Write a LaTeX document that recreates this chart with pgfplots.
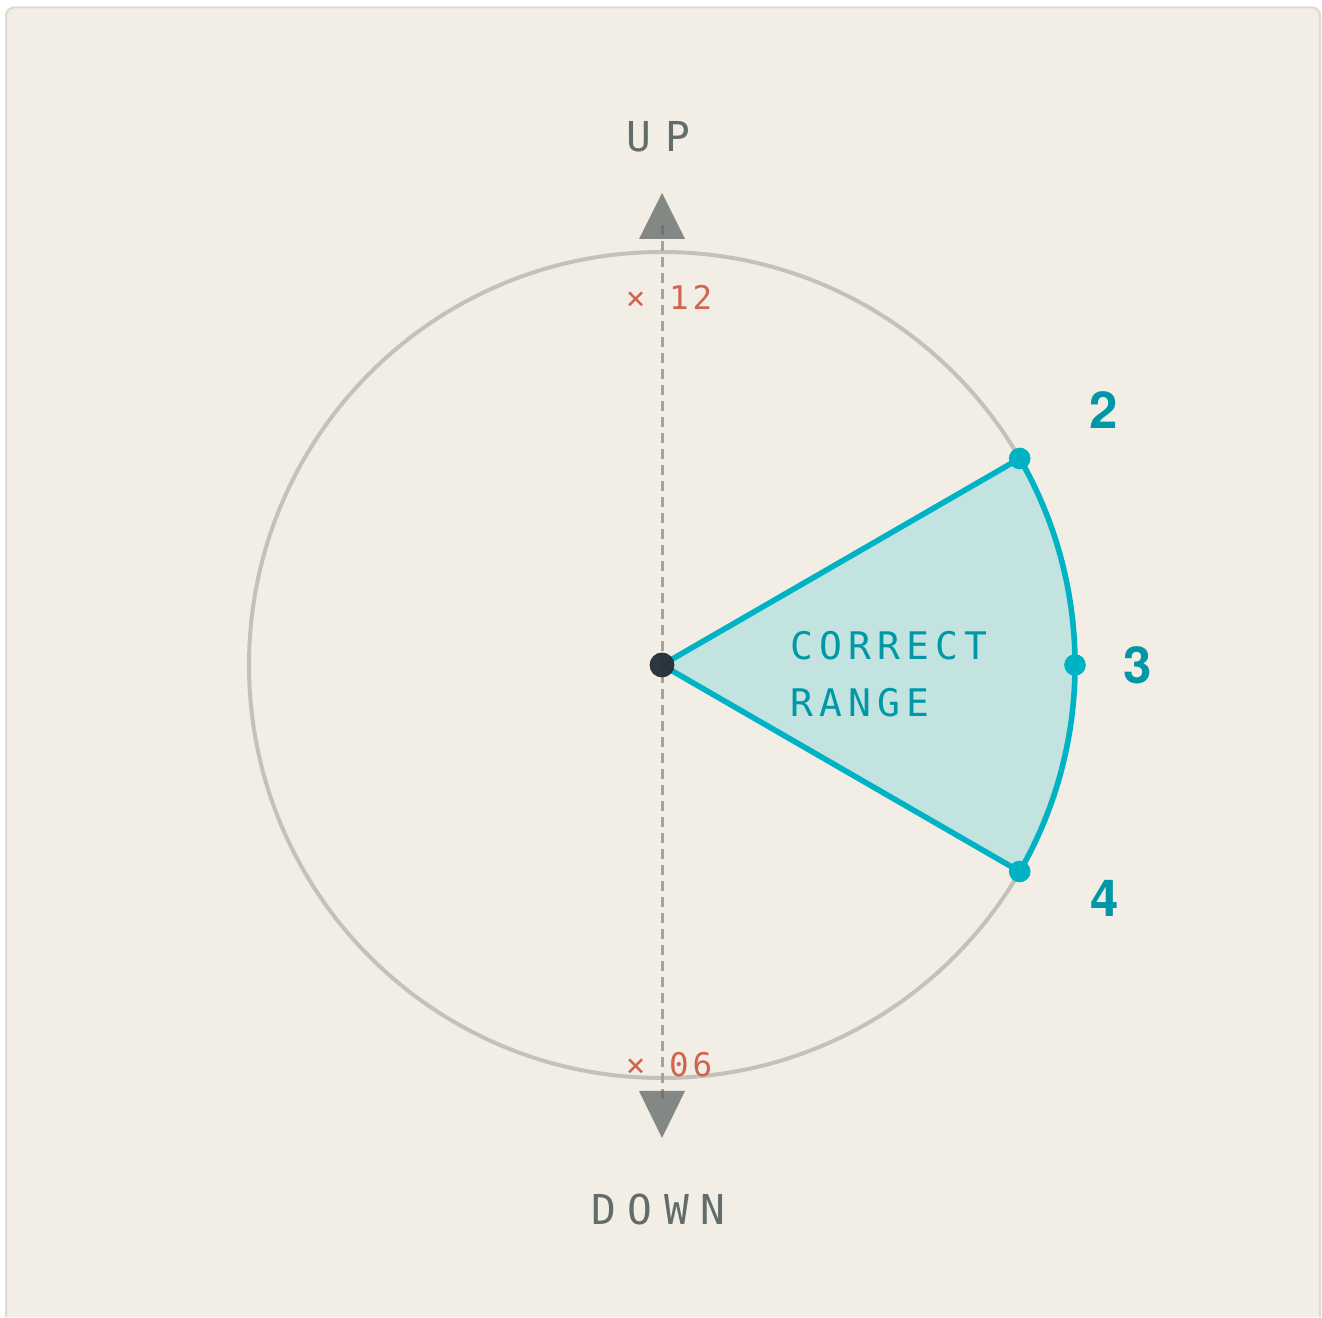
\documentclass[border=0pt]{standalone}
\usepackage{pgfplots}
\pgfplotsset{compat=1.18}
\usepackage{fontspec}
\setmainfont{TeX Gyre Heros}
\newfontfamily\monoA[LetterSpace=34]{DejaVu Sans Mono}
\newfontfamily\monoD[LetterSpace=28]{DejaVu Sans Mono}
\newfontfamily\monoB[LetterSpace=16]{DejaVu Sans Mono}
\newfontfamily\monoC[LetterSpace=12]{DejaVu Sans Mono}
\definecolor{panel}{HTML}{F2EEE6}
\definecolor{border}{HTML}{DDDAD3}
\definecolor{ring}{HTML}{C3C2BA}
\definecolor{dashgray}{HTML}{A3A39E}
\definecolor{tri}{HTML}{5F6664}
\definecolor{graytext}{HTML}{626C6A}
\definecolor{redtext}{HTML}{D0654F}
\definecolor{cyanline}{HTML}{00B3C4}
\definecolor{tealtext}{HTML}{0098A6}
\definecolor{sectorfill}{HTML}{C2E3E0}
\definecolor{hub}{HTML}{263238}
\begin{document}
\begin{tikzpicture}
\begin{axis}[width=661pt,height=658.5pt,scale only axis,
  xmin=-662,xmax=660,ymin=-652,ymax=665,hide axis,clip=true]
% background
\fill[white] (axis cs:-662,-652) rectangle (axis cs:660,665);
\fill[panel] (axis cs:-656,-652) [rounded corners=4pt] -- (axis cs:-656,657.5) -- (axis cs:658,657.5) [sharp corners] -- (axis cs:658,-652) -- cycle;
\draw[border,line width=1pt] (axis cs:-656,-652) [rounded corners=4pt] -- (axis cs:-656,657.5) -- (axis cs:658,657.5) [sharp corners] -- (axis cs:658,-652);
% clock ring
\draw[ring,line width=2pt] (axis cs:0,0) circle[radius=206.5pt];
% vertical dashed axis
\addplot[dashgray,line width=1.5pt,dash pattern=on 5pt off 3pt] coordinates {(0,440) (0,-440)};
% arrows
\addplot[draw=none,fill=tri,fill opacity=0.75] coordinates {(-23,426) (23,426) (0,472)} -- cycle;
\addplot[draw=none,fill=tri,fill opacity=0.75] coordinates {(-23,-426) (23,-426) (0,-473)} -- cycle;
% sector (hours 2 to 4)
\fill[sectorfill] (axis cs:0,0) -- (axis cs:357.7,206.5) arc[start angle=30,end angle=-30,radius=206.5pt] -- cycle;
\draw[cyanline,line width=2.8pt,line join=round] (axis cs:0,0) -- (axis cs:357.7,206.5) arc[start angle=30,end angle=-30,radius=206.5pt] -- cycle;
% hour markers
\addplot[only marks,mark=*,mark size=5.2pt,color=cyanline] coordinates {(357.7,206.5) (413,0) (357.7,-206.5)};
\addplot[only marks,mark=*,mark size=6pt,color=hub,fill opacity=0.97] coordinates {(0,0)};
% labels
\node[anchor=base,inner sep=0,text=graytext] at (axis cs:-4,513) {\monoA\fontsize{20.6pt}{24pt}\selectfont UP};
\node[anchor=base,inner sep=0,text=graytext] at (axis cs:-3.5,-560) {\monoD\fontsize{20.6pt}{24pt}\selectfont DOWN};
\node[anchor=base,inner sep=0,text=redtext] at (axis cs:7,355) {\monoC\fontsize{16.3pt}{19pt}\selectfont × 12};
\node[anchor=base,inner sep=0,text=redtext] at (axis cs:7,-412) {\monoC\fontsize{16.3pt}{19pt}\selectfont × 06};
\node[anchor=base west,inner sep=0,text=tealtext] at (axis cs:128,5) {\monoB\fontsize{19pt}{22pt}\selectfont CORRECT};
\node[anchor=base west,inner sep=0,text=tealtext] at (axis cs:128,-52) {\monoB\fontsize{19pt}{22pt}\selectfont RANGE};
\node[anchor=base,inner sep=0,text=tealtext] at (axis cs:442,236) {\bfseries\fontsize{25.5pt}{30pt}\selectfont 2};
\node[anchor=base,inner sep=0,text=tealtext] at (axis cs:476,-18.5) {\bfseries\fontsize{25.5pt}{30pt}\selectfont 3};
\node[anchor=base,inner sep=0,text=tealtext] at (axis cs:443,-251.5) {\bfseries\fontsize{25.5pt}{30pt}\selectfont 4};
\end{axis}
\end{tikzpicture}
\end{document}
